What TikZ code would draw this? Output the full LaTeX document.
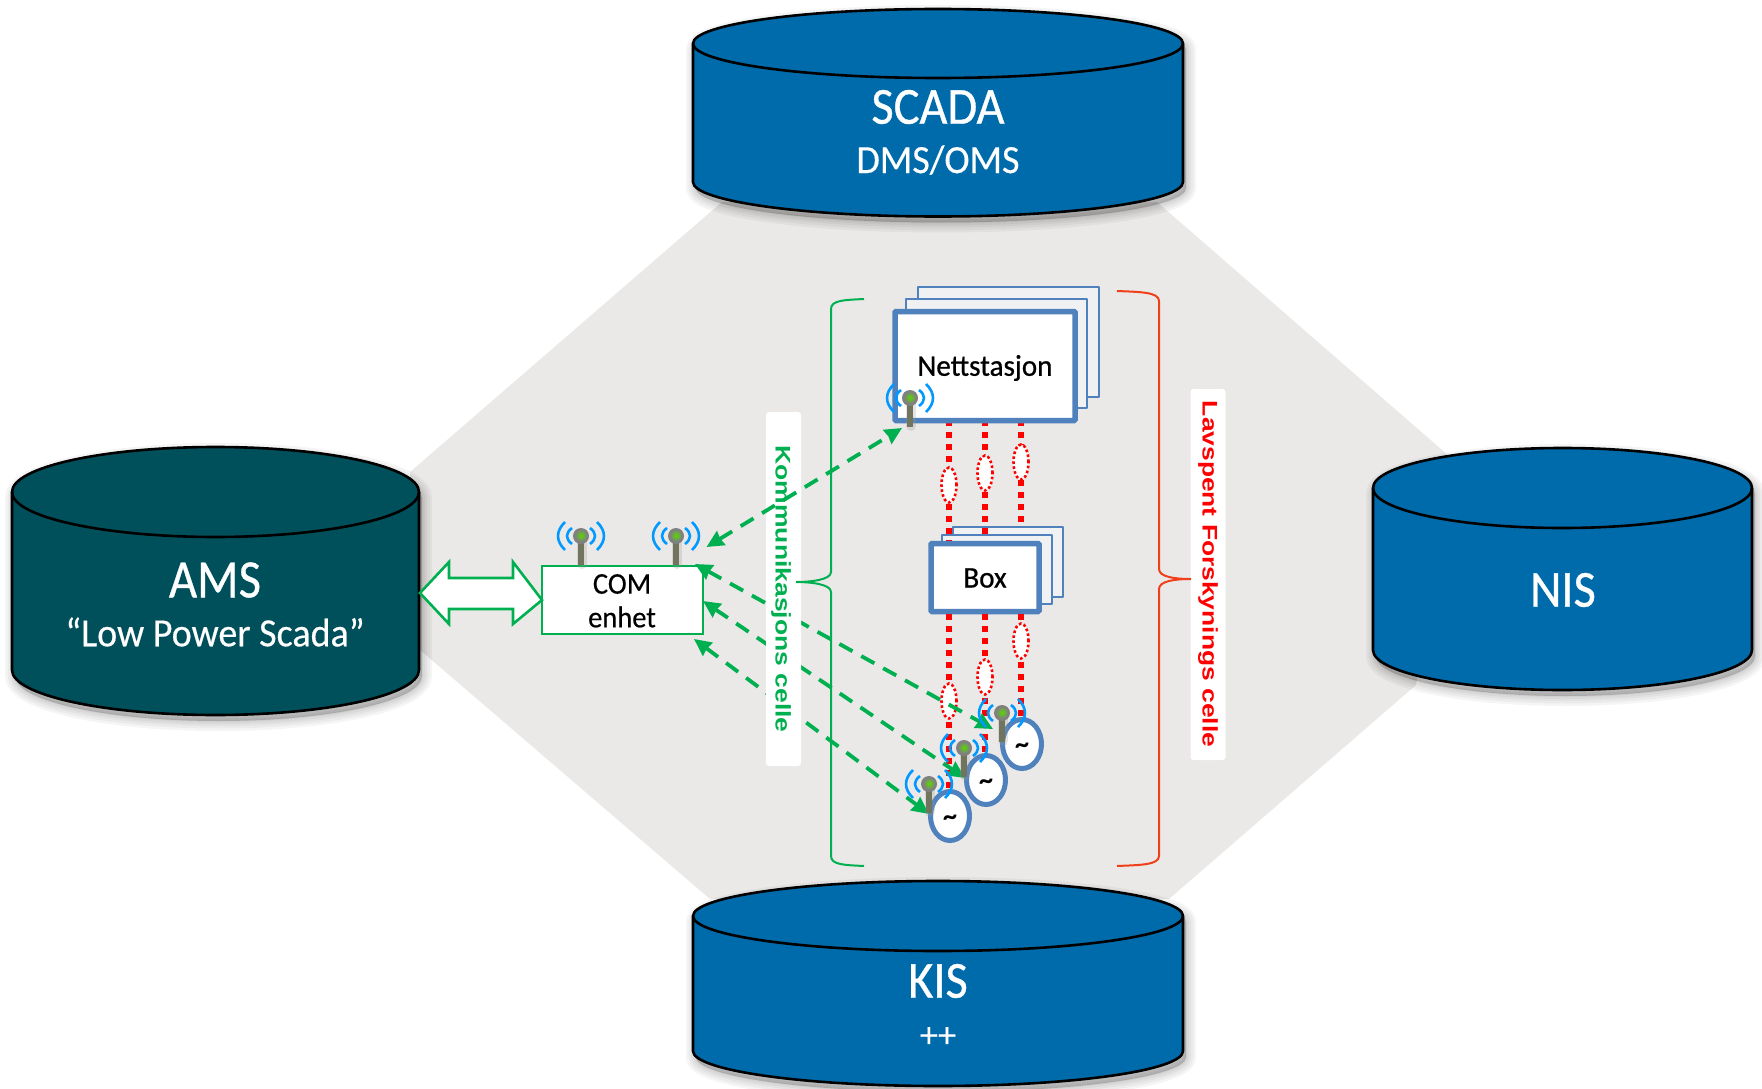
\documentclass[tikz,border=0pt]{standalone}
\usepackage{fontspec}
\setmainfont{Carlito}
\newfontfamily\arialbold{Liberation Sans}[Scale=1]
\newfontfamily\semibold{Carlito}[FakeBold=0.7]
\newfontfamily\heavier{Carlito}[FakeBold=0.4]
\usetikzlibrary{arrows.meta,shapes.geometric,shapes.arrows,calc}
\definecolor{hexgrey}{HTML}{EAE9E7}
\definecolor{dbblue}{HTML}{006BAB}
\definecolor{dbteal}{HTML}{00505C}
\definecolor{cellgreen}{HTML}{00B050}
\definecolor{boxblue}{HTML}{4F81BD}
\definecolor{radio}{HTML}{0099FF}
\definecolor{pagefill}{HTML}{F0F1F3}
\definecolor{poleolive}{HTML}{72755E}
\definecolor{lvbrace}{HTML}{F0401A}
\newcommand{\txt}[1]{\fontsize{#1}{#1}\selectfont}
\newcommand{\narrowtext}[2]{\scalebox{#1}[1]{#2}}
% x1 x2 cy ry yside colour
\newcommand{\dbcyl}[6]{%
  \foreach \w in {20,15,10,6,2}{
    \fill[black,opacity=.04,line join=round,draw=black,line width=\w pt]
      ($(#1,#3)+(3,6)$) -- ($(#1,#5)+(3,6)$) arc[start angle=180,end angle=360,x radius={(#2-#1)/2*1pt},y radius=#4pt]
      -- ($(#2,#3)+(3,6)$) arc[start angle=0,end angle=180,x radius={(#2-#1)/2*1pt},y radius=#4pt] -- cycle;
  }
  \filldraw[fill=#6,draw=black,line width=2.6pt]
    (#1,#3) -- (#1,#5) arc[start angle=180,end angle=360,x radius={(#2-#1)/2*1pt},y radius=#4pt]
    -- (#2,#3) arc[start angle=0,end angle=180,x radius={(#2-#1)/2*1pt},y radius=#4pt] -- cycle;
  \draw[black,line width=2.6pt] (#1,#3) arc[start angle=180,end angle=360,x radius={(#2-#1)/2*1pt},y radius=#4pt];
}
\tikzset{
  dbtitle/.style={text=white,inner sep=0pt,align=center},
  pagebox/.style={draw=boxblue,fill=pagefill,line width=2pt,line join=round},
  mainbox/.style={draw=boxblue,fill=white,line width=5.5pt,rounded corners=1pt,inner sep=0pt,text=black},
  lvline/.style={draw=red,line width=6pt,dash pattern=on 6pt off 6pt},
  lvloop/.style={ellipse,draw=red,fill=white,line width=2.6pt,dash pattern=on 2.6pt off 2.4pt,minimum width=15pt,minimum height=35pt,inner sep=0pt},
  genset/.style={ellipse,draw=boxblue,fill=white,line width=5pt,minimum width=39pt,minimum height=49pt,inner sep=0pt,text=black},
  radiolink/.style={draw=cellgreen,line width=3.8pt,dash pattern=on 15pt off 10pt,
     {Stealth[length=17pt,width=16pt,inset=1pt]}-{Stealth[length=17pt,width=16pt,inset=1pt]}},
  celltag/.style={fill=white,rounded corners=3pt,minimum width=35pt,inner sep=0pt},
  celltext/.style={inner sep=0pt,rotate=-90,font=\arialbold\bfseries},
  antenna/.pic={
    \draw[black!40,opacity=.25,line width=10pt,line cap=round] (1,0) -- (1,28);
    \draw[poleolive,line width=6pt] (0,2) -- (0,29);
    \draw[radio,line width=2.6pt]
      (-16,-14) .. controls (-25.3,-5) and (-25.3,5) .. (-16,14)
      (16,-14) .. controls (25.3,-5) and (25.3,5) .. (16,14)
      (-9,-8) .. controls (-15.7,-3) and (-15.7,3) .. (-9,8)
      (9,-8) .. controls (15.7,-3) and (15.7,3) .. (9,8);
    \fill[black!50] (0,0) circle[radius=8pt];
    \shade[inner color=green!60!yellow!85!black,outer color=black!50] (0,-0.5) circle[radius=6pt];
  },
}
\begin{document}
\begin{tikzpicture}[x=1pt,y=-1pt]
\useasboundingbox (0,0) rectangle (1762,1089);
% background
\fill[hexgrey] (722,202) -- (1157,202) -- (1449,456) -- (1416,685) -- (1169,899) -- (710,899) -- (420,650) -- (410,472) -- cycle;
% databases
\dbcyl{693}{1183}{43.5}{34.5}{182}{dbblue}
\dbcyl{693}{1183}{916}{35}{1051}{dbblue}
\dbcyl{1373}{1752}{488}{40}{650}{dbblue}
\dbcyl{12}{419}{492}{45}{670}{dbteal}
\node[dbtitle,font=\semibold\txt{52}] (scada) at (938,107) {\narrowtext{.93}{SCADA}};
\node[dbtitle,font=\heavier\txt{40}] (dms) at (938,160) {\narrowtext{.95}{DMS/OMS}};
\node[dbtitle,font=\semibold\txt{52}] (kis) at (938,981) {\narrowtext{.93}{KIS}};
\node[dbtitle,font=\heavier\txt{36}] (kisplus) at (938,1037) {++};
\node[dbtitle,font=\semibold\txt{52}] (nis) at (1563,590) {\narrowtext{.93}{NIS}};
\node[dbtitle,font=\semibold\txt{54}] (ams) at (215,580) {\narrowtext{.9}{AMS}};
\node[dbtitle,font=\heavier\txt{40}] (lps) at (215,632) {\narrowtext{.95}{“Low Power Scada”}};
% cell tags
\node[celltag,minimum height=371pt] (lvtag) at (1208,574.5) {};
% COM unit and link
\node[draw=cellgreen,fill=white,line width=2.6pt,minimum width=161pt,minimum height=68pt,inner sep=0pt,outer sep=0pt] (com) at (622.5,600) {};
\node[text=black,font=\heavier\txt{30},inner sep=0pt] (comtop) at (622,584) {\narrowtext{.95}{COM}};
\node[text=black,font=\heavier\txt{30},inner sep=0pt] (comlow) at (622,617) {\narrowtext{.95}{enhet}};
\coordinate (amsport) at (420,593);
\draw[draw=cellgreen,fill=white,line width=2.6pt,line join=miter]
  (amsport) -- (449,562) -- (449,578) -- (513,578) -- (513,562) -- (com.west) -- (513,624) -- (513,609) -- (449,609) -- (449,624) -- cycle;
% Nettstasjon pages
\draw[pagebox] (918,287) rectangle (1099,397);
\draw[pagebox] (906,299) rectangle (1087,408);
% Box pages
\draw[pagebox] (953,527) rectangle (1063,597);
\draw[pagebox] (942,535) rectangle (1052,604);
% low voltage lines
\coordinate (nA) at (949,420); \coordinate (nB) at (985,420); \coordinate (nC) at (1021,420);
\coordinate (bA) at (949,541); \coordinate (bB) at (985,535); \coordinate (bC) at (1021,524);
\draw[lvline] (nA) -- (bA);
\draw[lvline] (nB) -- (bB);
\draw[lvline] (nC) -- (bC);
\node[lvloop] (ln1) at (949,485) {};
\node[lvloop] (ln2) at (985,473) {};
\node[lvloop] (ln3) at (1021,462) {};
\node[mainbox,minimum width=180pt,minimum height=109pt] (nett) at (985,366) {};
\node[font=\semibold\txt{30},inner sep=0pt,text=black] (nettlabel) at (985,368) {\narrowtext{.97}{Nettstasjon}};
\node[mainbox,minimum width=108pt,minimum height=68pt] (boks) at (985,577.5) {};
\node[font=\semibold\txt{30},inner sep=0pt,text=black] (bokslabel) at (985,578) {\narrowtext{.97}{Box}};
\coordinate (bbA) at (949,614); \coordinate (bbB) at (985,614); \coordinate (bbC) at (1021,614);
\draw[lvline] (bbA) -- (949,790);
\draw[lvline] (bbB) -- (985,755);
\draw[lvline] (bbC) -- (1021,718);
\node[lvloop] (lb1) at (949,701) {};
\node[lvloop] (lb2) at (985,677) {};
\node[lvloop] (lb3) at (1021,641) {};
% generators
\node[genset] (g3) at (1022,744) {};
\node[genset] (g2) at (986,780) {};
\node[genset] (g1) at (950,816) {};
\node[font=\txt{28}\bfseries,inner sep=0pt,text=black] (t3) at (1022,748) {\~{}};
\node[font=\txt{28}\bfseries,inner sep=0pt,text=black] (t2) at (986,784) {\~{}};
\node[font=\txt{28}\bfseries,inner sep=0pt,text=black] (t1) at (950,820) {\~{}};
% radio links to units, behind the tag
\coordinate (a1) at (695,564); \coordinate (a2) at (993,729);
\coordinate (b1) at (703,601); \coordinate (b2) at (965,778);
\coordinate (c1) at (694,639); \coordinate (c2) at (929,814);
\coordinate (d1) at (706.5,547); \coordinate (d2) at (902,428);
\draw[radiolink] (a1) -- (a2);
\draw[radiolink] (b1) -- (b2);
\draw[radiolink] (c1) -- (c2);
\node[celltag,minimum height=354pt] (komtag) at (783.5,589) {};
\node[celltext,text=cellgreen,font=\arialbold\bfseries\txt{26.5}] (komtext) at (781,589) {\scalebox{1}[.8]{Kommunikasjons celle}};
\node[celltext,text=red,font=\arialbold\bfseries\txt{26.4}] (lvtext) at (1208,574) {\scalebox{1}[.8]{Lavspent Forskynings celle}};
\draw[radiolink] (d1) -- (d2);
% braces
\coordinate (gb1) at (864,299); \coordinate (gb2) at (796,582); \coordinate (gb3) at (864,866);
\draw[cellgreen,line width=2pt]
  (gb1) .. controls (845,300) and (831,300) .. (831,309) -- (831,572) .. controls (831,580) and (810,582) .. (gb2)
  .. controls (810,582) and (831,584) .. (831,592) -- (831,856) .. controls (831,865) and (845,865) .. (gb3);
\coordinate (rb1) at (1117,291); \coordinate (rb2) at (1191,579); \coordinate (rb3) at (1117,866);
\draw[lvbrace,line width=2pt]
  (rb1) .. controls (1140,292) and (1159,292) .. (1159,301) -- (1159,569) .. controls (1159,577) and (1175,579) .. (rb2)
  .. controls (1175,579) and (1159,581) .. (1159,589) -- (1159,856) .. controls (1159,865) and (1140,865) .. (rb3);
% antennas
\pic at (581,536) {antenna};
\pic at (676,536) {antenna};
\pic at (910,398) {antenna};
\pic at (1002,713) {antenna};
\pic at (964,748) {antenna};
\pic at (929,784) {antenna};
\end{tikzpicture}
\end{document}
